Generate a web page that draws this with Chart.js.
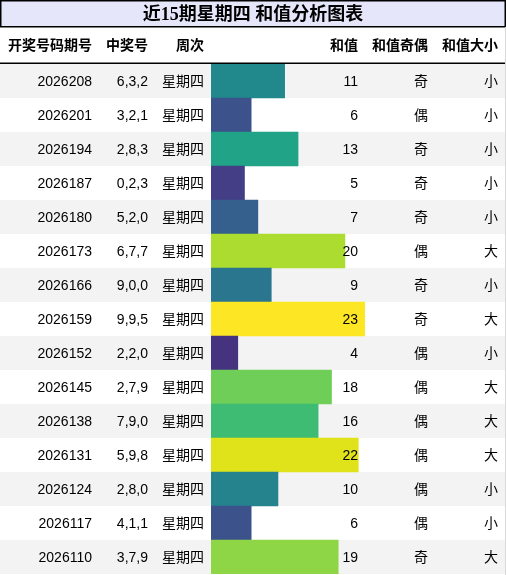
<!DOCTYPE html>
<html>
<head>
<meta charset="utf-8">
<style>
  body { margin: 0; background: #fff; }
  canvas { display: block; }
</style>
<script src="https://cdn.jsdelivr.net/npm/chart.js"></script>
</head>
<body>
<canvas id="myChart" width="506" height="575"></canvas>
<script>
// table data
const periods = ['2026208','2026201','2026194','2026187','2026180','2026173','2026166','2026159','2026152','2026145','2026138','2026131','2026124','2026117','2026110'];
const drawNums = ['6,3,2','3,2,1','2,8,3','0,2,3','5,2,0','6,7,7','9,0,0','9,9,5','2,2,0','2,7,9','7,9,0','5,9,8','2,8,0','4,1,1','3,7,9'];
const weekdays = ['星期四','星期四','星期四','星期四','星期四','星期四','星期四','星期四','星期四','星期四','星期四','星期四','星期四','星期四','星期四'];
const sums = [11, 6, 13, 5, 7, 20, 9, 23, 4, 18, 16, 22, 10, 6, 19];
const parity = ['奇','偶','奇','奇','奇','偶','奇','奇','偶','偶','偶','偶','偶','偶','奇'];
const sizes = ['小','小','小','小','小','大','小','大','小','大','大','大','小','小','大'];
const headers = ['开奖号码期号', '中奖号', '周次', '和值', '和值奇偶', '和值大小'];
const title = '近15期星期四 和值分析图表';

// viridis-like colours keyed by sum value
const sumColors = {
  4: '#46337f', 5: '#433e85', 6: '#3b528b', 7: '#355f8d', 9: '#2a768e',
  10: '#25838e', 11: '#21898c', 13: '#20a386', 16: '#3fbc73', 18: '#6ece58',
  19: '#8ed645', 20: '#addc30', 22: '#e0e31a', 23: '#fde725'
};

const FONT = "'Liberation Sans', 'Noto Sans CJK SC', sans-serif";

const tablePlugin = {
  id: 'tablePlugin',
  beforeDatasetsDraw(chart) {
    const ctx = chart.ctx;
    const y = chart.scales.y;
    const w = chart.width;
    ctx.save();
    // striped rows
    periods.forEach((p, i) => {
      const cy = y.getPixelForValue(i);
      const h = (y.bottom - y.top) / periods.length;
      ctx.fillStyle = i % 2 === 0 ? '#f3f3f3' : '#ffffff';
      ctx.fillRect(0, cy - h / 2, w, h);
    });
    ctx.restore();
  },
  afterDatasetsDraw(chart) {
    const ctx = chart.ctx;
    const y = chart.scales.y;
    const w = chart.width;
    ctx.save();

    // title box
    ctx.fillStyle = '#e6e6fa';
    ctx.fillRect(0.75, 0.75, w - 1.5, 26);
    ctx.strokeStyle = '#000';
    ctx.lineWidth = 1.5;
    ctx.strokeRect(0.75, 0.75, w - 1.5, 26);
    ctx.fillStyle = '#000';
    ctx.font = "bold 18px 'Liberation Serif', 'Noto Sans CJK SC', serif";
    ctx.textAlign = 'center';
    ctx.textBaseline = 'middle';
    ctx.fillText(title, w / 2, 15);

    // header
    const colRight = [92, 148, 204, 358, 428, 498];
    ctx.font = 'bold 14px ' + FONT;
    ctx.textAlign = 'right';
    headers.forEach((h, k) => ctx.fillText(h, colRight[k], 46));

    ctx.strokeStyle = '#000';
    ctx.lineWidth = 1.5;
    ctx.beginPath();
    ctx.moveTo(0, 63.25);
    ctx.lineTo(w, 63.25);
    ctx.stroke();

    // body cells
    ctx.font = '14px ' + FONT;
    periods.forEach((p, i) => {
      const cy = y.getPixelForValue(i) + 1;
      const cells = [p, drawNums[i], weekdays[i], String(sums[i]), parity[i], sizes[i]];
      cells.forEach((c, k) => ctx.fillText(c, colRight[k], cy));
    });

    // right edge
    ctx.strokeStyle = '#d9d9d9';
    ctx.lineWidth = 1;
    ctx.beginPath();
    ctx.moveTo(w - 0.5, 27);
    ctx.lineTo(w - 0.5, chart.height);
    ctx.stroke();
    ctx.restore();
  }
};

const ctx = document.getElementById('myChart').getContext('2d');
const myChart = new Chart(ctx, {
  type: 'bar',
  data: {
    labels: periods,
    datasets: [{
      data: sums,
      backgroundColor: sums.map(v => sumColors[v]),
      borderWidth: 0,
      barPercentage: 1,
      categoryPercentage: 1
    }]
  },
  options: {
    indexAxis: 'y',
    responsive: false,
    animation: false,
    layout: { padding: { left: 211, right: 141, top: 64, bottom: 1 } },
    plugins: { legend: { display: false }, tooltip: { enabled: false } },
    scales: {
      x: { display: false, min: 0, max: 23 },
      y: { display: false }
    }
  },
  plugins: [tablePlugin]
});
</script>
</body>
</html>
